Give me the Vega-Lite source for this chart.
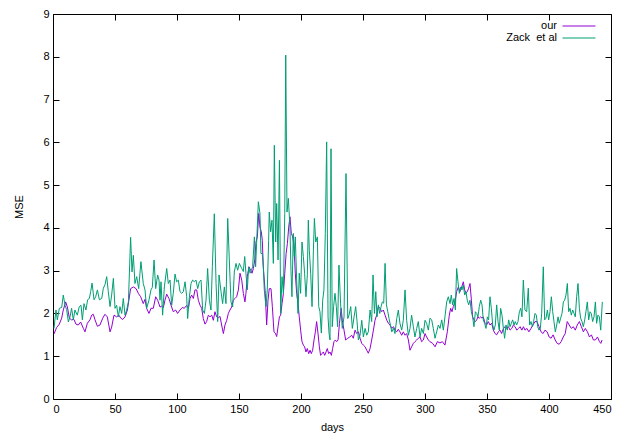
{
  "$schema": "https://vega.github.io/schema/vega-lite/v6.json",
  "width": 558,
  "height": 385,
  "autosize": {"type": "none"},
  "padding": {"left": 53, "top": 14, "right": 15, "bottom": 42},
  "background": "white",
  "datasets": {
    "our": [
      {"d":0.8,"v":1.52},{"d":2.9,"v":1.67},{"d":5.1,"v":1.75},{"d":7,"v":1.89},{"d":8.3,"v":2.08},{"d":10.2,"v":2.27},{"d":11.6,"v":2.15},{"d":13.2,"v":1.89},{"d":15,"v":1.85},{"d":16.9,"v":1.86},{"d":18.5,"v":1.75},{"d":20.4,"v":1.73},{"d":22.3,"v":1.8},{"d":24.5,"v":1.65},{"d":25.8,"v":1.57},{"d":27.7,"v":1.77},{"d":29.8,"v":1.85},{"d":31.2,"v":1.96},{"d":32.5,"v":1.98},{"d":33.9,"v":1.85},{"d":35.8,"v":1.7},{"d":37.9,"v":1.73},{"d":40.1,"v":1.89},{"d":41.9,"v":1.98},{"d":43.8,"v":1.92},{"d":46,"v":1.57},{"d":47.3,"v":1.68},{"d":49.2,"v":1.96},{"d":51.3,"v":1.92},{"d":53.2,"v":1.96},{"d":54.6,"v":1.89},{"d":56.2,"v":1.86},{"d":58.1,"v":1.92},{"d":60,"v":2.08},
      {"d":62.6,"v":2.58},{"d":64.8,"v":2.62},{"d":67,"v":2.58},{"d":68.8,"v":2.47},{"d":70.7,"v":2.39},{"d":72.8,"v":2.23},
      {"d":74.2,"v":2.33},{"d":75.5,"v":2.12},{"d":77.4,"v":2.0},{"d":79,"v":2.12},{"d":80.9,"v":2.12},{"d":82.8,"v":2.39},{"d":84.4,"v":2.31},{"d":86.3,"v":2.15},{"d":87.6,"v":2.17},{"d":89,"v":2.14},{"d":90.3,"v":2.31},{"d":91.7,"v":2.45},{"d":93.5,"v":2.35},{"d":95.2,"v":2.19},{"d":97,"v":2.04},{"d":98.9,"v":2.08},{"d":100.5,"v":2.0},{"d":102.4,"v":2.08},{"d":104.3,"v":2.14},{"d":105.9,"v":2.12},{"d":107.8,"v":2.19},{"d":109.2,"v":2.12},{"d":110.5,"v":2.35},{"d":111.8,"v":2.43},{"d":113.2,"v":2.35},{"d":114.5,"v":2.55},{"d":115.9,"v":2.55},{"d":117.2,"v":2.31},{"d":118.6,"v":2.19},{"d":119.9,"v":2.12},{"d":121.2,"v":1.88},{"d":122.6,"v":1.75},{"d":123.9,"v":1.81},{"d":125.3,"v":1.96},{"d":126.6,"v":1.92},{"d":128,"v":1.96},{"d":129.3,"v":1.84},{"d":130.6,"v":2.04},{"d":132,"v":1.92},{"d":133.3,"v":1.9},{"d":134.7,"v":1.93},{"d":136,"v":1.73},{"d":137.4,"v":1.53},{"d":138.7,"v":1.73},{"d":140.1,"v":1.84},{"d":141.4,"v":2.0},{"d":142.7,"v":2.08},{"d":144.1,"v":2.15},{"d":145.4,"v":2.31},{"d":146.8,"v":2.35},{"d":148.1,"v":2.39},{"d":149.5,"v":2.55},
      {"d":150.8,"v":2.94},{"d":152.2,"v":2.78},{"d":153.5,"v":2.47},{"d":154.8,"v":2.27},{"d":155.6,"v":2.47},{"d":156.7,"v":2.86},{"d":158.1,"v":3.09},{"d":159.4,"v":3.01},{"d":160.5,"v":2.94},{"d":161.6,"v":3.05},{"d":162.7,"v":3.25},{"d":163.7,"v":3.67},{"d":164.8,"v":3.79},{"d":165.9,"v":4.34},{"d":166.9,"v":4.02},{"d":168,"v":3.91},{"d":168.8,"v":3.71},{"d":169.6,"v":3.09},{"d":170.4,"v":2.78},{"d":171.2,"v":2.47},{"d":172.3,"v":1.73},{"d":173.4,"v":2.31},{"d":174.4,"v":2.58},{"d":175.8,"v":2.58},{"d":176.9,"v":2.16},{"d":178.2,"v":1.57},{"d":179.3,"v":1.54},{"d":180.4,"v":1.46},{"d":181.5,"v":1.69},{"d":182.6,"v":1.92},{"d":183.6,"v":1.96},{"d":184.7,"v":2.23},{"d":185.8,"v":2.47},{"d":186.9,"v":2.94},{"d":188,"v":3.4},{"d":189,"v":3.63},{"d":190.1,"v":4.02},{"d":191.1,"v":4.26},{"d":192.2,"v":3.87},{"d":193.3,"v":3.79},{"d":194.4,"v":3.56},{"d":195.4,"v":2.94},{"d":196.5,"v":2.47},{"d":197.6,"v":2.23},{"d":198.6,"v":1.92},{"d":199.7,"v":1.61},{"d":200.8,"v":1.34},{"d":201.9,"v":1.26},{"d":202.9,"v":1.22},{"d":204,"v":1.1},{"d":205.1,"v":1.18},{"d":206.2,"v":1.06},{"d":207.3,"v":1.14},{"d":208.3,"v":1.06},{"d":209.4,"v":1.14},{"d":210.5,"v":1.38},{"d":211.6,"v":1.57},{"d":212.6,"v":1.81},{"d":213.7,"v":1.54},{"d":214.8,"v":1.22},{"d":215.8,"v":1.02},{"d":216.9,"v":1.06},{"d":218,"v":1.1},{"d":219.1,"v":1.02},{"d":220.2,"v":1.1},{"d":221.2,"v":1.18},{"d":222.3,"v":1.06},{"d":223.4,"v":1.1},{"d":224.5,"v":1.02},{"d":225.5,"v":1.18},{"d":226.6,"v":1.34},{"d":227.7,"v":1.38},{"d":228.8,"v":1.34},{"d":229.9,"v":1.38},
      {"d":231,"v":1.77},{"d":232.4,"v":2.12},{"d":233.3,"v":1.84},{"d":234.7,"v":1.61},{"d":236,"v":1.38},{"d":237.7,"v":1.42},{"d":239.3,"v":1.45},{"d":240.9,"v":1.49},{"d":242.2,"v":1.42},{"d":243.6,"v":1.61},{"d":244.9,"v":1.53},{"d":246.3,"v":1.57},{"d":247.6,"v":1.42},{"d":249,"v":1.3},{"d":250.3,"v":1.26},{"d":251.7,"v":1.22},{"d":253,"v":1.14},{"d":254.3,"v":1.07},{"d":255.7,"v":1.18},{"d":257,"v":1.38},{"d":258.4,"v":1.61},{"d":259.7,"v":1.84},{"d":261,"v":1.96},{"d":262.4,"v":2.16},{"d":263.7,"v":2.12},{"d":265.1,"v":2.04},{"d":266.4,"v":2.08},{"d":267.8,"v":1.96},{"d":269.2,"v":1.84},{"d":270.5,"v":1.77},{"d":271.8,"v":1.73},{"d":273.2,"v":1.65},{"d":274.6,"v":1.69},{"d":275.8,"v":1.61},{"d":277.2,"v":1.57},{"d":278.5,"v":1.63},{"d":279.8,"v":1.57},{"d":281.2,"v":1.49},{"d":282.5,"v":1.57},{"d":283.9,"v":1.49},{"d":285.2,"v":1.53},{"d":286.6,"v":1.38},{"d":287.9,"v":1.14},{"d":289.2,"v":1.22},{"d":290.6,"v":1.3},{"d":291.9,"v":1.34},{"d":293.3,"v":1.38},{"d":294.6,"v":1.42},{"d":296,"v":1.45},{"d":297.3,"v":1.34},{"d":298.7,"v":1.38},{"d":300,"v":1.53},{"d":301.3,"v":1.45},{"d":302.7,"v":1.38},
      {"d":304,"v":1.34},{"d":306.2,"v":1.3},{"d":308.1,"v":1.22},{"d":310,"v":1.34},{"d":312.1,"v":1.31},{"d":314,"v":1.34},{"d":316.1,"v":1.26},{"d":318,"v":1.57},{"d":319.6,"v":1.96},{"d":320.7,"v":2.12},{"d":321.8,"v":2.04},{"d":322.8,"v":2.16},{"d":324.2,"v":2.27},{"d":325.5,"v":2.51},{"d":326.9,"v":2.62},{"d":328.2,"v":2.51},{"d":329.6,"v":2.62},{"d":330.9,"v":2.74},{"d":332,"v":2.55},{"d":333,"v":2.47},{"d":334.1,"v":2.51},{"d":335.2,"v":2.59},{"d":336.3,"v":2.7},{"d":337.4,"v":2.31},{"d":338.4,"v":1.92},{"d":339.5,"v":1.85},{"d":340.6,"v":1.81},{"d":341.7,"v":1.85},{"d":342.7,"v":1.92},{"d":343.8,"v":1.89},{"d":344.9,"v":1.92},{"d":346,"v":1.89},{"d":347,"v":1.92},{"d":348.4,"v":1.77},{"d":349.7,"v":1.73},{"d":351,"v":1.81},{"d":352.4,"v":1.73},{"d":353.8,"v":1.77},{"d":355.1,"v":1.61},{"d":356.5,"v":1.53},{"d":357.8,"v":1.5},{"d":359.1,"v":1.57},{"d":360.5,"v":1.61},{"d":361.8,"v":1.53},{"d":363.2,"v":1.65},{"d":364.6,"v":1.69},{"d":365.9,"v":1.65},{"d":367.3,"v":1.69},{"d":368.6,"v":1.61},{"d":370,"v":1.65},{"d":371.3,"v":1.73},{"d":372.7,"v":1.69},{"d":374,"v":1.61},{"d":375.4,"v":1.65},{"d":376.7,"v":1.69},{"d":378.1,"v":1.61},{"d":379.4,"v":1.69},
      {"d":380.6,"v":1.61},{"d":382.2,"v":1.65},{"d":383.8,"v":1.57},{"d":385.5,"v":1.65},{"d":387.1,"v":1.73},{"d":388.7,"v":1.81},{"d":390.3,"v":1.81},{"d":392,"v":1.69},{"d":393.6,"v":1.57},{"d":395.2,"v":1.53},{"d":396.8,"v":1.61},{"d":398.5,"v":1.57},{"d":400.1,"v":1.45},{"d":401.7,"v":1.42},{"d":403.3,"v":1.5},{"d":405,"v":1.38},{"d":406.6,"v":1.3},{"d":408.2,"v":1.28},{"d":409.8,"v":1.34},{"d":411.5,"v":1.45},{"d":413.1,"v":1.53},{"d":414.7,"v":1.81},{"d":416.3,"v":1.73},{"d":418,"v":1.65},{"d":419.6,"v":1.69},{"d":421.2,"v":1.61},{"d":422.8,"v":1.73},{"d":424.5,"v":1.81},{"d":426.1,"v":1.69},{"d":427.7,"v":1.57},{"d":429.3,"v":1.65},{"d":431,"v":1.57},{"d":432.6,"v":1.45},{"d":434.2,"v":1.5},{"d":435.8,"v":1.38},{"d":437.4,"v":1.38},{"d":439.1,"v":1.45},{"d":440.7,"v":1.34},{"d":441.8,"v":1.3},{"d":442.8,"v":1.38}
    ],
    "zack": [
      {"d":0.8,"v":1.65},{"d":2.4,"v":2.08},{"d":3.5,"v":1.85},{"d":5.1,"v":2.12},{"d":7,"v":2.14},{"d":8.3,"v":2.43},{"d":9.7,"v":2.19},{"d":11,"v":2.09},{"d":12.4,"v":1.8},{"d":13.7,"v":1.92},{"d":15,"v":2.12},{"d":16.4,"v":1.85},{"d":17.7,"v":2.08},{"d":19.6,"v":1.96},{"d":21.2,"v":2.16},{"d":22.6,"v":2.19},{"d":23.7,"v":1.85},{"d":25,"v":2.23},{"d":26.6,"v":2.08},{"d":27.9,"v":2.32},{"d":29.3,"v":2.35},{"d":30.4,"v":2.51},{"d":31.5,"v":2.71},{"d":33.1,"v":2.32},{"d":34.4,"v":2.39},{"d":35.8,"v":2.55},{"d":37.4,"v":2.32},{"d":39.3,"v":2.35},{"d":40.6,"v":2.59},{"d":41.9,"v":2.67},{"d":43.3,"v":2.86},{"d":44.6,"v":2.51},{"d":46,"v":2.16},{"d":47.3,"v":2.43},{"d":48.7,"v":2.82},{"d":50,"v":2.12},{"d":51.3,"v":2.19},{"d":52.7,"v":1.92},{"d":54,"v":2.16},{"d":55.4,"v":2.0},{"d":56.7,"v":2.35},{"d":58.1,"v":1.96},{"d":59.4,"v":2.08},{"d":60.8,"v":2.27},
      {"d":62.6,"v":3.78},{"d":63.7,"v":2.97},{"d":64.8,"v":3.36},{"d":66.1,"v":2.7},{"d":67.5,"v":2.86},{"d":69.1,"v":2.58},{"d":70.9,"v":3.21},{"d":72.8,"v":2.7},
      {"d":74.2,"v":2.55},{"d":75.5,"v":2.12},{"d":77.4,"v":2.31},{"d":79,"v":2.55},{"d":80.1,"v":2.61},{"d":81.5,"v":3.25},{"d":82.8,"v":2.58},{"d":84.4,"v":2.9},{"d":85.5,"v":2.78},{"d":86.3,"v":2.31},{"d":87.1,"v":2.74},{"d":88.4,"v":1.96},{"d":89.8,"v":2.62},{"d":91.7,"v":3.05},{"d":93,"v":2.7},{"d":94.4,"v":2.78},{"d":95.7,"v":2.19},{"d":97,"v":2.47},{"d":98.4,"v":2.92},{"d":99.7,"v":2.74},{"d":101.1,"v":2.78},{"d":102.4,"v":2.51},{"d":103.8,"v":2.47},{"d":105.1,"v":2.51},{"d":106.5,"v":2.74},{"d":107.8,"v":2.39},{"d":108.6,"v":1.88},{"d":109.7,"v":2.31},{"d":111.3,"v":2.7},{"d":112.6,"v":2.78},{"d":114,"v":2.74},{"d":115.3,"v":2.78},{"d":116.7,"v":2.58},{"d":118,"v":2.74},{"d":119.4,"v":2.78},{"d":120.7,"v":2.08},{"d":122.1,"v":2.0},{"d":123.4,"v":2.31},{"d":124.7,"v":3.05},{"d":126.1,"v":2.31},{"d":127.4,"v":2.08},{"d":128.5,"v":3.09},{"d":130.1,"v":4.33},{"d":131.5,"v":2.7},{"d":132.8,"v":1.81},{"d":133.9,"v":2.9},{"d":135.5,"v":2.51},{"d":136.8,"v":2.23},{"d":138.2,"v":2.62},{"d":139.5,"v":2.23},{"d":140.9,"v":4.22},{"d":142.2,"v":3.25},{"d":143.5,"v":2.27},{"d":144.9,"v":2.15},{"d":146.2,"v":2.97},{"d":147.6,"v":3.17},{"d":148.9,"v":3.01},{"d":150.3,"v":3.17},
      {"d":152.2,"v":3.05},{"d":153.5,"v":2.98},{"d":154.6,"v":3.33},{"d":155.6,"v":2.94},{"d":156.7,"v":2.55},{"d":157.8,"v":3.09},{"d":158.9,"v":2.94},{"d":160,"v":3.01},{"d":161,"v":3.09},{"d":162.4,"v":3.79},{"d":163.4,"v":3.09},{"d":164.2,"v":3.63},{"d":165.6,"v":4.61},{"d":166.9,"v":4.34},{"d":167.7,"v":3.4},{"d":168.8,"v":3.4},{"d":169.6,"v":3.09},{"d":170.4,"v":2.55},{"d":171.2,"v":2.31},{"d":171.8,"v":2.16},{"d":172.8,"v":2.55},{"d":173.9,"v":3.71},{"d":174.4,"v":4.37},{"d":175.5,"v":3.91},{"d":176.6,"v":4.18},{"d":177.7,"v":3.17},{"d":178.5,"v":5.93},{"d":179.6,"v":3.67},{"d":180.4,"v":4.57},{"d":181.5,"v":3.25},{"d":182.6,"v":5.58},{"d":183.6,"v":2.0},{"d":184.7,"v":2.86},{"d":185.8,"v":2.47},{"d":186.9,"v":4.34},{"d":187.7,"v":8.04},{"d":188.7,"v":4.37},{"d":189.8,"v":4.69},{"d":191.1,"v":4.02},{"d":191.9,"v":3.01},{"d":192.7,"v":2.39},{"d":193.8,"v":3.87},{"d":194.6,"v":3.33},{"d":195.4,"v":3.79},{"d":196.5,"v":2.78},{"d":197.6,"v":2.0},{"d":198.6,"v":2.94},{"d":199.7,"v":2.47},{"d":200.8,"v":3.67},{"d":201.9,"v":3.33},{"d":202.9,"v":2.94},{"d":204,"v":2.39},{"d":205.1,"v":2.9},{"d":205.9,"v":4.18},{"d":206.7,"v":3.48},{"d":207.8,"v":2.94},{"d":208.9,"v":2.16},{"d":210,"v":3.48},{"d":210.8,"v":4.22},{"d":211.9,"v":3.67},{"d":213.2,"v":3.79},{"d":214.3,"v":2.16},{"d":215.3,"v":2.04},{"d":216.4,"v":1.54},{"d":217.5,"v":2.31},{"d":218.5,"v":2.55},{"d":219.6,"v":3.87},{"d":220.7,"v":6.01},{"d":221.8,"v":1.92},{"d":222.6,"v":1.54},{"d":223.4,"v":1.38},{"d":224.2,"v":5.85},{"d":225.2,"v":1.69},{"d":226.3,"v":2.16},{"d":227.4,"v":2.47},{"d":228.5,"v":2.16},{"d":229.5,"v":1.69},
      {"d":230.6,"v":3.13},{"d":231.9,"v":2.24},{"d":233.3,"v":1.65},{"d":234.7,"v":1.92},{"d":236.3,"v":5.27},{"d":237.7,"v":1.88},{"d":238.7,"v":1.96},{"d":240.1,"v":2.16},{"d":241.4,"v":1.65},{"d":242.8,"v":1.92},{"d":244.1,"v":2.16},{"d":245.2,"v":1.81},{"d":246.3,"v":1.38},{"d":247.6,"v":1.49},{"d":249,"v":1.84},{"d":250.3,"v":1.45},{"d":251.7,"v":1.65},{"d":253,"v":1.49},{"d":254.3,"v":1.57},{"d":255.7,"v":2.08},{"d":257,"v":1.81},{"d":258.1,"v":2.9},{"d":259.2,"v":2.0},{"d":260.3,"v":2.51},{"d":261.3,"v":1.92},{"d":262.4,"v":2.2},{"d":263.5,"v":2.0},{"d":264.6,"v":2.16},{"d":265.6,"v":2.27},{"d":266.7,"v":2.24},{"d":267.8,"v":3.17},{"d":268.9,"v":2.2},{"d":270,"v":2.04},{"d":271,"v":1.88},{"d":272.1,"v":1.73},{"d":273.2,"v":1.57},{"d":274.6,"v":1.65},{"d":275.8,"v":1.53},{"d":277.2,"v":1.88},{"d":278.5,"v":2.08},{"d":279.8,"v":1.77},{"d":281.2,"v":1.61},{"d":282.5,"v":1.84},{"d":283.9,"v":2.55},{"d":285.2,"v":1.84},{"d":286.6,"v":1.49},{"d":287.9,"v":1.65},{"d":289.2,"v":1.96},{"d":290.6,"v":1.69},{"d":291.9,"v":1.45},{"d":293.3,"v":1.65},{"d":294.6,"v":1.81},{"d":296,"v":1.45},{"d":297.3,"v":1.65},{"d":298.7,"v":1.53},{"d":300,"v":1.84},{"d":301.3,"v":1.77},{"d":302.7,"v":1.61},
      {"d":304,"v":1.89},{"d":305.4,"v":1.85},{"d":306.7,"v":1.65},{"d":308.1,"v":1.42},{"d":309.4,"v":1.57},{"d":310.8,"v":1.73},{"d":312.1,"v":1.65},{"d":313.5,"v":1.85},{"d":314.8,"v":1.61},{"d":316.1,"v":1.92},{"d":317.5,"v":2.27},{"d":318.8,"v":2.39},{"d":320.2,"v":2.23},{"d":321.2,"v":2.43},{"d":322.3,"v":2.2},{"d":323.4,"v":2.35},{"d":324.5,"v":2.08},{"d":325.5,"v":3.05},{"d":326.6,"v":2.74},{"d":327.7,"v":2.47},{"d":328.8,"v":2.62},{"d":329.8,"v":2.55},{"d":330.9,"v":2.66},{"d":332,"v":2.43},{"d":333,"v":2.51},{"d":334.1,"v":2.31},{"d":335.2,"v":2.2},{"d":336.3,"v":2.31},{"d":337.4,"v":2.04},{"d":338.4,"v":1.92},{"d":339.5,"v":1.69},{"d":340.6,"v":2.04},{"d":341.7,"v":2.0},{"d":342.7,"v":1.92},{"d":343.8,"v":2.16},{"d":344.9,"v":2.31},{"d":346,"v":2.2},{"d":347,"v":1.85},{"d":348.1,"v":1.77},{"d":349.2,"v":1.65},{"d":350.3,"v":1.92},{"d":351.3,"v":1.85},{"d":352.4,"v":2.39},{"d":353.5,"v":2.12},{"d":354.6,"v":1.73},{"d":355.6,"v":1.61},{"d":356.7,"v":1.73},{"d":357.8,"v":2.2},{"d":358.9,"v":1.81},{"d":359.9,"v":1.61},{"d":361,"v":2.12},{"d":362.1,"v":1.96},{"d":363.2,"v":1.65},{"d":364.2,"v":1.42},{"d":365.3,"v":1.73},{"d":366.4,"v":1.61},{"d":367.5,"v":1.85},{"d":368.6,"v":1.69},{"d":369.6,"v":1.77},{"d":370.7,"v":1.85},{"d":371.8,"v":1.73},{"d":372.8,"v":1.81},{"d":373.9,"v":1.73},{"d":375,"v":1.81},{"d":376.1,"v":2.04},{"d":377.2,"v":2.12},{"d":378.2,"v":1.92},{"d":379.3,"v":2.78},
      {"d":380.6,"v":2.08},{"d":382,"v":2.04},{"d":383.3,"v":2.59},{"d":384.4,"v":1.73},{"d":385.5,"v":1.81},{"d":386.6,"v":1.69},{"d":387.6,"v":1.81},{"d":388.7,"v":2.0},{"d":389.8,"v":1.96},{"d":390.9,"v":1.69},{"d":391.9,"v":1.61},{"d":393,"v":1.65},{"d":394.1,"v":2.0},{"d":395.4,"v":3.09},{"d":396.5,"v":1.85},{"d":397.6,"v":1.89},{"d":398.7,"v":2.08},{"d":399.7,"v":1.85},{"d":400.8,"v":2.04},{"d":401.9,"v":2.39},{"d":403,"v":2.04},{"d":404,"v":1.81},{"d":405.1,"v":1.57},{"d":406.2,"v":1.73},{"d":407.3,"v":1.92},{"d":408.3,"v":1.77},{"d":409.4,"v":1.89},{"d":410.5,"v":2.0},{"d":411.6,"v":2.27},{"d":412.6,"v":2.31},{"d":413.7,"v":2.43},{"d":414.8,"v":2.7},{"d":415.9,"v":2.04},{"d":416.9,"v":2.12},{"d":418,"v":1.96},{"d":419.1,"v":2.08},{"d":420.2,"v":2.0},{"d":421.2,"v":1.92},{"d":422.3,"v":2.39},{"d":423.4,"v":2.7},{"d":424.5,"v":2.12},{"d":425.5,"v":1.89},{"d":426.6,"v":1.81},{"d":427.7,"v":1.69},{"d":428.8,"v":1.85},{"d":429.8,"v":2.04},{"d":430.9,"v":2.27},{"d":432,"v":1.85},{"d":433.1,"v":2.04},{"d":434.1,"v":2.0},{"d":435.2,"v":1.81},{"d":436.3,"v":1.92},{"d":437.4,"v":2.27},{"d":438.4,"v":1.77},{"d":439.5,"v":1.96},{"d":440.6,"v":1.92},{"d":441.7,"v":1.61},{"d":443,"v":2.27}
    ]
  },
  "layer": [
    {
      "data": {"name": "our"},
      "mark": {"type": "line", "strokeWidth": 1, "interpolate": "linear"},
      "encoding": {
        "x": {
          "field": "d", "type": "quantitative",
          "scale": {"domain": [0, 450], "nice": false},
          "axis": {"orient": "bottom", "values": [0, 50, 100, 150, 200, 250, 300, 350, 400, 450], "title": "days", "titlePadding": 7}
        },
        "y": {
          "field": "v", "type": "quantitative",
          "scale": {"domain": [0, 9], "nice": false},
          "axis": {"orient": "left", "values": [0, 1, 2, 3, 4, 5, 6, 7, 8, 9], "title": "MSE", "titlePadding": 18}
        },
        "color": {
          "datum": "our", "type": "nominal",
          "scale": {"domain": ["our", "Zack\u00a0 et al"], "range": ["#9400D3", "#009E73"]},
          "legend": {
            "title": null, "orient": "none", "legendX": 520, "legendY": 6, "padding": 0,
            "symbolType": "M-3,0H3", "symbolSize": 121, "symbolStrokeWidth": 1,
            "labelAlign": "right", "labelOffset": -28, "labelFont": "Liberation Sans",
            "labelFontSize": 11, "labelColor": "black", "rowPadding": 1
          }
        }
      }
    },
    {
      "data": {"name": "zack"},
      "mark": {"type": "line", "strokeWidth": 1, "interpolate": "linear"},
      "encoding": {
        "x": {"field": "d", "type": "quantitative", "axis": null},
        "y": {"field": "v", "type": "quantitative", "axis": null},
        "color": {"datum": "Zack\u00a0 et al", "type": "nominal"}
      }
    },
    {
      "data": {"name": "our"},
      "mark": {"type": "point", "opacity": 0},
      "encoding": {
        "x": {"field": "d", "type": "quantitative",
          "axis": {"orient": "top", "values": [0, 50, 100, 150, 200, 250, 300, 350, 400, 450], "labels": false, "title": null}},
        "y": {"field": "v", "type": "quantitative",
          "axis": {"orient": "right", "values": [0, 1, 2, 3, 4, 5, 6, 7, 8, 9], "labels": false, "title": null}}
      }
    }
  ],
  "resolve": {"axis": {"x": "independent", "y": "independent"}},
  "config": {
    "view": {"stroke": "black", "strokeWidth": 1},
    "axis": {
      "grid": false, "domain": false,
      "tickColor": "black", "tickSize": -6, "tickWidth": 1,
      "labelPadding": 10,
      "labelFont": "Liberation Sans", "labelFontSize": 11, "labelColor": "black",
      "titleFont": "Liberation Sans", "titleFontSize": 11, "titleFontWeight": "normal", "titleColor": "black"
    }
  }
}
